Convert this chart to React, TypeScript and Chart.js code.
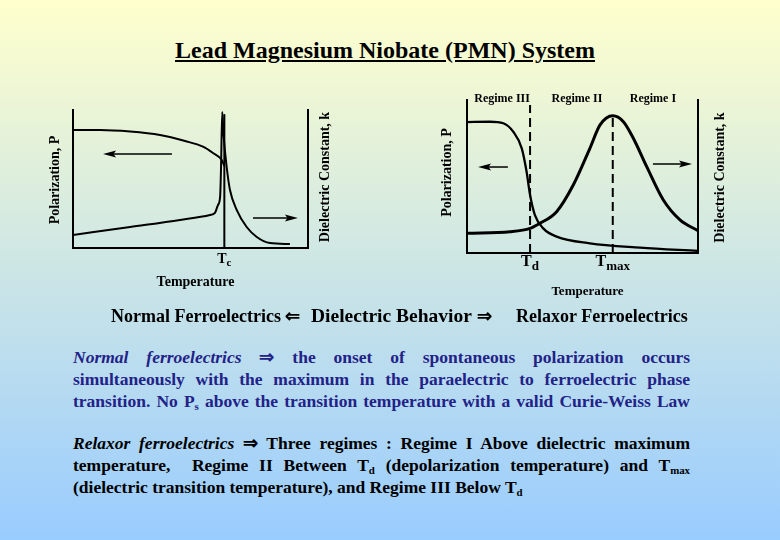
import React, { useEffect, useRef } from "react";
import { Chart, registerables } from "chart.js";

Chart.register(...registerables);

const SERIF = "'Liberation Serif', 'Times New Roman', serif";

// ---------- Normal ferroelectric diagram (left) : temperature 0..100 ----------
const normalPolTemp = [0, 11.5, 24.3, 37.0, 47.7, 55.3, 59.6, 63.3, 64.4];
const normalPolValue = [85.5, 85.5, 84.4, 81.9, 77.5, 73.4, 68.8, 63.8, 59.4];
const normalDielTemp = [0, 24.3, 45.5, 58.3, 60.4, 61.7, 62.6, 63.0, 63.5, 64.0, 65.4, 66.8, 69.7, 73.9, 78.2, 83.8, 92.3];
const normalDielValue = [9.4, 15.2, 20.3, 23.9, 25.4, 31.2, 37.0, 58.7, 98.6, 83.3, 58.7, 42.0, 27.5, 15.2, 8.0, 3.6, 2.9];
const normalTc = [64.4];
const normalTcTop = [97];
const normalArrowFrom = [42.1, 76.6];
const normalArrowTo = [12.8, 95.7];
const normalArrowLevel = [68.1, 21.7];

// ---------- Relaxor diagram (right) ----------
const relaxorPolTemp = [0, 10, 15.7, 20, 23.7, 25.8, 27.3, 29.4, 33, 38.8, 53.2, 74.9, 100];
const relaxorPolValue = [85.6, 85.8, 84.8, 79.3, 68.4, 53.1, 37.9, 24.8, 16.1, 10.7, 6.3, 3.5, 1.3];
const relaxorDielTemp = [0, 18.6, 27.3, 31.6, 38.8, 46, 53.2, 57.6, 63.1, 67.7, 72, 77.8, 85, 92.2, 100];
const relaxorDielValue = [12.9, 13.9, 16.1, 19.4, 27, 44.4, 68.4, 83.7, 89.7, 85.8, 75, 56.4, 34.6, 21.6, 14.6];
const relaxorTd = [27.3];
const relaxorTdTop = [96.7];
const relaxorTmax = [63.1];
const relaxorTmaxTop = [91.5];
const relaxorArrowFrom = [17.7, 80.5];
const relaxorArrowTo = [4.8, 97.4];
const relaxorArrowLevel = [56.2, 58.2];
const relaxorRegimeLabels = ["Regime III", "Regime II", "Regime I"];
const relaxorRegimeCenters = [15.2, 47.6, 80.5];

const axis = (position: string) => ({
  type: "linear",
  position,
  min: 0,
  max: 100,
  display: true,
  ticks: { display: false },
  grid: { display: false, drawTicks: false },
  border: { display: true, color: "#000", width: 2 },
});

const curve = (xs: number[], ys: number[], width: number, extra: any = {}) => ({
  data: xs.map((x, i) => ({ x, y: ys[i] })),
  borderColor: "#000",
  backgroundColor: "#000",
  borderWidth: width,
  pointRadius: 0,
  pointHoverRadius: 0,
  showLine: true,
  fill: false,
  cubicInterpolationMode: "monotone",
  yAxisID: "y",
  ...extra,
});

function drawArrow(ctx: CanvasRenderingContext2D, x1: number, x2: number, y: number, lw: number) {
  const dir = Math.sign(x2 - x1);
  const len = 13;
  const half = 3.5;
  ctx.save();
  ctx.strokeStyle = "#000";
  ctx.fillStyle = "#000";
  ctx.lineWidth = lw;
  ctx.beginPath();
  ctx.moveTo(x1, y);
  ctx.lineTo(x2 - dir * len * 0.6, y);
  ctx.stroke();
  ctx.beginPath();
  ctx.moveTo(x2, y);
  ctx.lineTo(x2 - dir * len, y - half);
  ctx.lineTo(x2 - dir * len * 0.8, y);
  ctx.lineTo(x2 - dir * len, y + half);
  ctx.closePath();
  ctx.fill();
  ctx.restore();
}

function drawRotated(ctx: CanvasRenderingContext2D, text: string, cx: number, cy: number, size: number) {
  ctx.save();
  ctx.translate(cx, cy);
  ctx.rotate(-Math.PI / 2);
  ctx.font = `bold ${size}px ${SERIF}`;
  ctx.fillStyle = "#000";
  ctx.textAlign = "center";
  ctx.textBaseline = "middle";
  ctx.fillText(text, 0, 0);
  ctx.restore();
}

function drawText(ctx: CanvasRenderingContext2D, text: string, cx: number, cy: number, size: number) {
  ctx.save();
  ctx.font = `bold ${size}px ${SERIF}`;
  ctx.fillStyle = "#000";
  ctx.textAlign = "center";
  ctx.textBaseline = "middle";
  ctx.fillText(text, cx, cy);
  ctx.restore();
}

function drawSubText(ctx: CanvasRenderingContext2D, main: string, sub: string, cx: number, cy: number, size: number, subSize: number) {
  ctx.save();
  ctx.fillStyle = "#000";
  ctx.textAlign = "left";
  ctx.textBaseline = "middle";
  ctx.font = `bold ${size}px ${SERIF}`;
  const wm = ctx.measureText(main).width;
  ctx.font = `bold ${subSize}px ${SERIF}`;
  const ws = ctx.measureText(sub).width;
  const x0 = cx - (wm + ws) / 2;
  ctx.font = `bold ${size}px ${SERIF}`;
  ctx.fillText(main, x0, cy);
  ctx.font = `bold ${subSize}px ${SERIF}`;
  ctx.fillText(sub, x0 + wm, cy + size * 0.3);
  ctx.restore();
}

const normalLabels = {
  id: "normalLabels",
  afterDraw(chart: any) {
    const { ctx, chartArea: a, scales } = chart;
    const xs = scales.x;
    const ys = scales.y;
    normalArrowFrom.forEach((f, i) =>
      drawArrow(ctx, xs.getPixelForValue(f), xs.getPixelForValue(normalArrowTo[i]), ys.getPixelForValue(normalArrowLevel[i]), 1.5)
    );
    drawRotated(ctx, "Polarization, P", a.left - 18, (a.top + a.bottom) / 2 + 1, 14);
    drawRotated(ctx, "Dielectric Constant, k", a.right + 17, (a.top + a.bottom) / 2 - 2, 14);
    drawSubText(ctx, "T", "c", xs.getPixelForValue(normalTc[0]), a.bottom + 11, 14, 11);
    drawText(ctx, "Temperature", (a.left + a.right) / 2 + 5, a.bottom + 34, 14);
  },
};

const relaxorLabels = {
  id: "relaxorLabels",
  afterDraw(chart: any) {
    const { ctx, chartArea: a, scales } = chart;
    const xs = scales.x;
    const ys = scales.y;
    relaxorArrowFrom.forEach((f, i) =>
      drawArrow(ctx, xs.getPixelForValue(f), xs.getPixelForValue(relaxorArrowTo[i]), ys.getPixelForValue(relaxorArrowLevel[i]), 1.5)
    );
    relaxorRegimeLabels.forEach((t, i) => drawText(ctx, t, xs.getPixelForValue(relaxorRegimeCenters[i]), a.top - 1, 12));
    drawRotated(ctx, "Polarization, P", a.left - 20, (a.top + a.bottom) / 2 - 4, 14);
    drawRotated(ctx, "Dielectric Constant, k", a.right + 22, (a.top + a.bottom) / 2 + 1, 14);
    drawSubText(ctx, "T", "d", xs.getPixelForValue(relaxorTd[0]), a.bottom + 9, 16, 13);
    drawSubText(ctx, "T", "max", xs.getPixelForValue(relaxorTmax[0]), a.bottom + 9, 16, 13);
    drawText(ctx, "Temperature", (a.left + a.right) / 2 + 5, a.bottom + 39, 13);
  },
};

const baseOptions = (padding: any) => ({
  animation: false,
  responsive: false,
  maintainAspectRatio: false,
  events: [],
  layout: { padding },
  plugins: { legend: { display: false }, tooltip: { enabled: false } },
  scales: { x: axis("bottom"), y: axis("left"), y2: axis("right") },
});

const normalConfig = () => ({
  type: "scatter",
  data: {
    datasets: [
      curve(normalPolTemp, normalPolValue, 2),
      curve(normalDielTemp, normalDielValue, 2),
      curve([normalTc[0], normalTc[0]], [0, normalTcTop[0]], 2, { cubicInterpolationMode: "default", tension: 0 }),
    ],
  },
  options: baseOptions({ left: 43, right: 42, top: 30, bottom: 52 }),
  plugins: [normalLabels],
});

const relaxorConfig = () => ({
  type: "scatter",
  data: {
    datasets: [
      curve(relaxorPolTemp, relaxorPolValue, 2.3),
      curve(relaxorDielTemp, relaxorDielValue, 3),
      curve([relaxorTd[0], relaxorTd[0]], [0, relaxorTdTop[0]], 2, { cubicInterpolationMode: "default", tension: 0, borderDash: [9, 5] }),
      curve([relaxorTmax[0], relaxorTmax[0]], [0, relaxorTmaxTop[0]], 2, { cubicInterpolationMode: "default", tension: 0, borderDash: [9, 5] }),
    ],
  },
  options: baseOptions({ left: 47, right: 62, top: 20, bottom: 57 }),
  plugins: [relaxorLabels],
});

function Diagram({ make, left, top, width, height }: any) {
  const ref = useRef<HTMLCanvasElement>(null);
  useEffect(() => {
    const chart = new Chart(ref.current as HTMLCanvasElement, make() as any);
    return () => chart.destroy();
  }, []);
  return (
    <canvas
      ref={ref}
      width={width}
      height={height}
      style={{ position: "absolute", left, top, width, height }}
    />
  );
}

const subStyle: React.CSSProperties = { fontSize: "0.62em", lineHeight: 0, verticalAlign: "-0.3em" };

const lineStyle = (justify: boolean): React.CSSProperties => ({
  height: 22,
  lineHeight: "22px",
  textAlign: justify ? "justify" : "left",
  textAlignLast: justify ? "justify" : "left",
});

export default function App() {
  return (
    <div
      style={{
        position: "fixed",
        left: 0,
        top: 0,
        width: 780,
        height: 540,
        overflow: "hidden",
        background: "linear-gradient(to bottom, #ffffcc 0%, #99ccff 100%)",
        fontFamily: SERIF,
        fontWeight: "bold",
      }}
    >
      <div
        style={{
          position: "absolute",
          left: 0,
          top: 36,
          width: 770,
          textAlign: "center",
          fontSize: 24,
          lineHeight: "28px",
          textDecoration: "underline",
          color: "#000",
        }}
      >
        Lead Magnesium Niobate (PMN) System
      </div>

      <Diagram make={normalConfig} left={30} top={80} width={320} height={220} />
      <Diagram make={relaxorConfig} left={420} top={80} width={340} height={230} />

      <div style={{ position: "absolute", top: 305, left: 0, width: 780, height: 24, fontSize: 18, lineHeight: "22px", color: "#000" }}>
        <span style={{ position: "absolute", left: 111 }}>Normal Ferroelectrics</span>
        <span style={{ position: "absolute", left: 285 }}>⇐</span>
        <span style={{ position: "absolute", left: 311, fontSize: 19.5, fontFamily: SERIF, fontWeight: "bold" }}>Dielectric Behavior</span>
        <span style={{ position: "absolute", left: 477 }}>⇒</span>
        <span style={{ position: "absolute", left: 516 }}>Relaxor Ferroelectrics</span>
      </div>

      <div style={{ position: "absolute", left: 73, top: 346, width: 617, fontSize: 17.5, color: "#222288" }}>
        <div style={lineStyle(true)}>
          <i>Normal ferroelectrics</i> ⇒ the onset of spontaneous polarization occurs
        </div>
        <div style={lineStyle(true)}>
          simultaneously with the maximum in the paraelectric to ferroelectric phase
        </div>
        <div style={lineStyle(true)}>
          transition. No P<sub style={subStyle}>s</sub> above the transition temperature with a valid Curie-Weiss Law
        </div>
      </div>

      <div style={{ position: "absolute", left: 73, top: 432, width: 617, fontSize: 17.5, color: "#000" }}>
        <div style={lineStyle(true)}>
          <i>Relaxor ferroelectrics</i> ⇒ Three regimes : Regime I Above dielectric maximum
        </div>
        <div style={lineStyle(true)}>
          temperature,&nbsp; Regime II Between T<sub style={subStyle}>d</sub> (depolarization temperature) and T<sub style={subStyle}>max</sub>
        </div>
        <div style={lineStyle(false)}>
          (dielectric transition temperature), and Regime III Below T<sub style={subStyle}>d</sub>
        </div>
      </div>
    </div>
  );
}
